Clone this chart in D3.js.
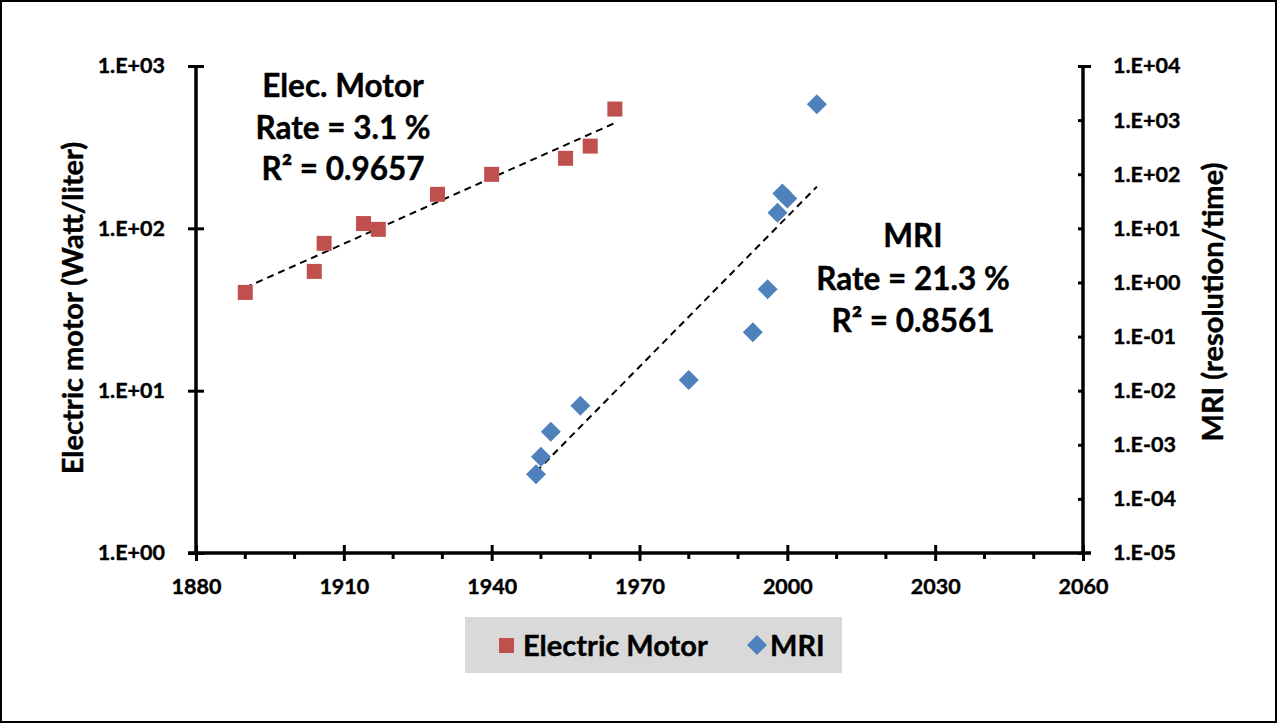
<html>
<script src='https://d3js.org/d3.v7.min.js'></script>
<style>
  body { margin: 0; background: white; }
  text { font-family: Lato, "Open Sans", sans-serif; font-weight: bold; fill: black; }
</style>
<body onload='init()'>
<svg width=1279 height=725></svg>

<script>
// Electric motor (left axis, Watt/liter)
var motorYears  = [1890, 1904, 1906, 1914, 1917, 1929, 1940, 1955, 1960, 1965];
var motorValues = [40.3, 54.3, 80.8, 107, 98.6, 162, 215, 270, 321, 543];

// MRI (right axis, resolution/time)
var mriYears  = [1949, 1950, 1952, 1958, 1980, 1993, 1996, 1998, 1999, 2000, 2006];
var mriValues = [2.86e-4, 6.0e-4, 1.74e-3, 5.27e-3, 1.58e-2, 0.120, 0.752, 19.5, 43.9, 35.5, 1954];

var xTicks = [1880, 1910, 1940, 1970, 2000, 2030, 2060];
var xMinorTicks = [1890, 1900, 1920, 1930, 1950, 1960, 1980, 1990, 2010, 2020, 2040, 2050];
var leftTicks = [1, 10, 100, 1000];
var rightTicks = [1e-5, 1e-4, 1e-3, 1e-2, 1e-1, 1, 10, 100, 1000, 1e4];

var motorNote = ["Elec. Motor", "Rate = 3.1 %", "R\u00B2 = 0.9657"];
var mriNote = ["MRI", "Rate = 21.3 %", "R\u00B2 = 0.8561"];
var legendNames = ["Electric Motor", "MRI"];

function init() {
    var svg = d3.select("svg");
    var red = "#c0504d", blue = "#4f81bd";

    // chart border
    svg.append("rect")
       .attr("x", 1).attr("y", 1).attr("width", 1275).attr("height", 721)
       .attr("fill", "white").attr("stroke", "black").attr("stroke-width", 2);

    var left = 196, right = 1083, top = 66, bottom = 553;

    var x = d3.scaleLinear().domain([1880, 2060]).range([left, right]);
    var yL = d3.scaleLog().domain([1, 1000]).range([bottom, top]);
    var yR = d3.scaleLog().domain([1e-5, 1e4]).range([bottom, top]);

    function sci(d) {
        var e = Math.round(Math.log10(d));
        var s = Math.abs(e) < 10 ? "0" + Math.abs(e) : "" + Math.abs(e);
        return "1.E" + (e < 0 ? "-" : "+") + s;
    }

    // left axis
    var gL = svg.append("g")
        .attr("transform", "translate(" + left + ",0)")
        .call(d3.axisLeft(yL).tickValues(leftTicks).tickFormat(sci).tickSizeOuter(0).tickPadding(25));
    gL.selectAll(".tick line").attr("x1", -8).attr("x2", 8);

    // right axis
    var gR = svg.append("g")
        .attr("transform", "translate(" + right + ",0)")
        .call(d3.axisRight(yR).tickValues(rightTicks).tickFormat(sci).tickSizeOuter(0).tickPadding(24));
    gR.selectAll(".tick line").attr("x1", -5).attr("x2", 0);
    gR.selectAll(".tick line").filter(function(d) { return d === 1e4; }).attr("x2", 8);

    // x axis
    var gX = svg.append("g")
        .attr("transform", "translate(0," + bottom + ")")
        .call(d3.axisBottom(x).tickValues(xTicks).tickFormat(d3.format("d")).tickSizeOuter(0).tickPadding(20));
    gX.selectAll(".tick line").attr("y1", -8).attr("y2", 8);
    gX.select(".domain").attr("d", "M" + (left - 8) + ",0H" + (right + 8));
    gX.selectAll(".minor").data(xMinorTicks).enter().append("line")
        .attr("x1", function(d) { return x(d); }).attr("x2", function(d) { return x(d); })
        .attr("y1", 0).attr("y2", 6).attr("stroke", "black").attr("stroke-width", 3);

    [gL, gR, gX].forEach(function(g) {
        g.selectAll(".domain").attr("stroke", "black").attr("stroke-width", 3.5);
        g.selectAll(".tick line").attr("stroke", "black").attr("stroke-width", 3);
        g.selectAll("text").style("font-size", "21.5px").attr("font-family", null)
         .attr("stroke", "black").attr("stroke-width", 0.4);
    });
    gL.select(".domain").attr("d", "M0," + top + "V" + bottom);
    gR.select(".domain").attr("d", "M0," + top + "V" + bottom);

    // axis titles
    svg.append("text")
       .attr("transform", "translate(83,308) rotate(-90)")
       .attr("text-anchor", "middle").style("font-size", "29px")
       .attr("stroke", "black").attr("stroke-width", 0.4)
       .text("Electric motor (Watt/liter)");
    svg.append("text")
       .attr("transform", "translate(1223,302) rotate(-90)")
       .attr("text-anchor", "middle").style("font-size", "29px")
       .attr("stroke", "black").attr("stroke-width", 0.4)
       .text("MRI (resolution/time)");

    // exponential trend lines (least squares on log10 values)
    function fit(xs, ys) {
        var ly = ys.map(Math.log10);
        var mx = d3.mean(xs), my = d3.mean(ly);
        var sxy = d3.sum(xs, function(v, i) { return (v - mx) * (ly[i] - my); });
        var sxx = d3.sum(xs, function(v) { return (v - mx) * (v - mx); });
        var b = sxy / sxx;
        return function(t) { return Math.pow(10, my + b * (t - mx)); };
    }
    var fM = fit(motorYears, motorValues);
    var fR = fit(mriYears, mriValues);
    var ext = d3.extent(motorYears);
    svg.append("line")
       .attr("x1", x(ext[0])).attr("y1", yL(fM(ext[0])))
       .attr("x2", x(ext[1])).attr("y2", yL(fM(ext[1])))
       .attr("stroke", "black").attr("stroke-width", 2).attr("stroke-dasharray", "7,5");
    var ext2 = d3.extent(mriYears);
    svg.append("line")
       .attr("x1", x(ext2[0])).attr("y1", yR(fR(ext2[0])))
       .attr("x2", x(ext2[1])).attr("y2", yR(fR(ext2[1])))
       .attr("stroke", "black").attr("stroke-width", 2).attr("stroke-dasharray", "7,5");

    // markers
    svg.append("g").selectAll("rect").data(motorYears).enter().append("rect")
       .attr("x", function(d) { return x(d) - 7.5; })
       .attr("y", function(d, i) { return yL(motorValues[i]) - 7.5; })
       .attr("width", 15).attr("height", 15).attr("fill", red);
    svg.append("g").selectAll("path").data(mriYears).enter().append("path")
       .attr("d", function(d, i) {
           var cx = x(d), cy = yR(mriValues[i]), r = 10;
           return "M" + cx + "," + (cy - r) + "L" + (cx + r) + "," + cy + "L" + cx + "," + (cy + r) + "L" + (cx - r) + "," + cy + "Z";
       })
       .attr("fill", blue);

    // annotations
    svg.append("g").selectAll("text").data(motorNote).enter().append("text")
       .attr("x", 343).attr("y", function(d, i) { return 97 + i * 41.5; })
       .attr("text-anchor", "middle").style("font-size", "31.5px")
       .attr("stroke", "black").attr("stroke-width", 0.4).text(function(d) { return d; });
    svg.append("g").selectAll("text").data(mriNote).enter().append("text")
       .attr("x", 913).attr("y", function(d, i) { return 247 + i * 42.5; })
       .attr("text-anchor", "middle").style("font-size", "31.5px")
       .attr("stroke", "black").attr("stroke-width", 0.4).text(function(d) { return d; });

    // legend
    var lg = svg.append("g");
    lg.append("rect").attr("x", 465).attr("y", 617).attr("width", 377).attr("height", 56).attr("fill", "#d9d9d9");
    lg.append("rect").attr("x", 499).attr("y", 638).attr("width", 15).attr("height", 15).attr("fill", red);
    lg.append("text").attr("x", 523).attr("y", 656).style("font-size", "29px")
      .attr("stroke", "black").attr("stroke-width", 0.4).text(legendNames[0]);
    lg.append("path").attr("d", "M757,635L767,645L757,655L747,645Z").attr("fill", blue);
    lg.append("text").attr("x", 770).attr("y", 656).style("font-size", "29px")
      .attr("stroke", "black").attr("stroke-width", 0.4).text(legendNames[1]);
}
</script>
</body>
</html>
